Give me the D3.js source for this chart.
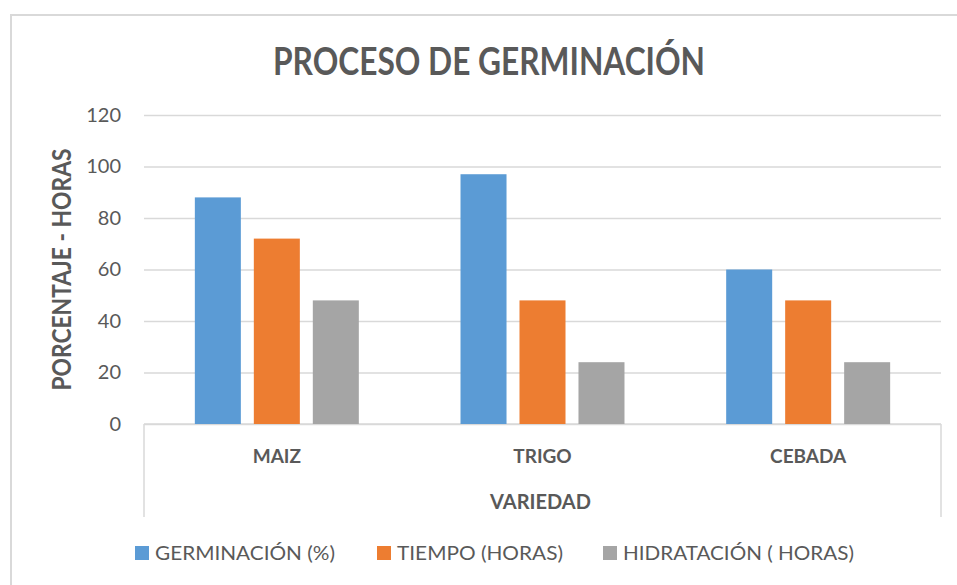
<!DOCTYPE html>
<html>
<head>
<meta charset="utf-8">
<script src="https://cdn.jsdelivr.net/npm/d3@7"></script>
<style>
  body { margin: 0; background: #fff; }
  svg text { font-family: Lato, "Open Sans", sans-serif; fill: #595959; }
</style>
</head>
<body>
<div id="chart"></div>
<script>
// data
const categories = ["MAIZ", "TRIGO", "CEBADA"];
const seriesNames = ["GERMINACIÓN (%)", "TIEMPO (HORAS)", "HIDRATACIÓN ( HORAS)"];
const germinacion = [88, 97, 60];
const tiempo = [72, 48, 48];
const hidratacion = [48, 24, 24];
const yTicks = [0, 20, 40, 60, 80, 100, 120];
const colors = ["#5b9bd5", "#ed7d31", "#a5a5a5"];

const series = [germinacion, tiempo, hidratacion];

const width = 957, height = 585;
const margin = {top: 115, right: 16, bottom: 161, left: 144};

let svg = d3.select("#chart").append("svg")
    .attr("width", width)
    .attr("height", height);

// outer chart border (runs off the right / bottom edges)
svg.append("rect")
    .attr("x", 11).attr("y", 15)
    .attr("width", 1000).attr("height", 1000)
    .attr("fill", "none")
    .attr("stroke", "#d9d9d9")
    .attr("stroke-width", 2);

let x0 = d3.scaleBand()
    .domain(categories)
    .range([margin.left, width - margin.right]);

let x1 = d3.scaleBand()
    .domain(d3.range(series.length))
    .range([0, x0.bandwidth()])
    .paddingInner(0.22)
    .paddingOuter(0.862);

let y = d3.scaleLinear()
    .domain([0, 120])
    .range([height - margin.bottom, margin.top]);

// gridlines + tick labels
let yAxis = d3.axisLeft(y)
    .tickValues(yTicks)
    .tickSize(-(width - margin.left - margin.right))
    .tickPadding(23);

let ga = svg.append("g")
    .attr("transform", "translate(" + margin.left + ",0)")
    .call(yAxis);
ga.select(".domain").remove();
ga.selectAll(".tick line").attr("stroke", "#d9d9d9").attr("stroke-width", 1.3);
ga.selectAll(".tick text")
    .attr("font-size", 20)
    .style("font-family", "Lato, sans-serif")
    .attr("fill", "#595959");

// category axis box
let y0 = y(0);
svg.append("line")
    .attr("x1", margin.left).attr("x2", width - margin.right)
    .attr("y1", y0).attr("y2", y0)
    .attr("stroke", "#d9d9d9").attr("stroke-width", 1.5);
[margin.left, width - margin.right].forEach(function(xx){
    svg.append("line")
        .attr("x1", xx).attr("x2", xx)
        .attr("y1", y0).attr("y2", 517)
        .attr("stroke", "#d9d9d9").attr("stroke-width", 1.5);
});

// bars
let groups = svg.selectAll("g.grp")
    .data(categories)
    .enter().append("g")
    .attr("class", "grp")
    .attr("transform", function(d){ return "translate(" + x0(d) + ",0)"; });

groups.selectAll("rect")
    .data(function(d, i){ return series.map(function(s, k){ return {k: k, v: s[i]}; }); })
    .enter().append("rect")
    .attr("x", function(d){ return x1(d.k); })
    .attr("width", x1.bandwidth())
    .attr("y", function(d){ return y(d.v); })
    .attr("height", function(d){ return y(0) - y(d.v); })
    .attr("fill", function(d){ return colors[d.k]; });

// category labels
svg.selectAll("text.cat")
    .data(categories)
    .enter().append("text")
    .attr("class", "cat")
    .attr("x", function(d){ return x0(d) + x0.bandwidth() / 2; })
    .attr("y", 462.5)
    .attr("text-anchor", "middle")
    .attr("font-size", 19)
    .attr("font-weight", "bold")
    .text(function(d){ return d; });

// axis titles
svg.append("text")
    .attr("x", (margin.left + width - margin.right) / 2 - 2)
    .attr("y", 509)
    .attr("text-anchor", "middle")
    .attr("font-size", 20)
    .attr("font-weight", "bold")
    .text("VARIEDAD");

svg.append("text")
    .attr("transform", "translate(71," + ((y(0) + y(120)) / 2) + ") rotate(-90)")
    .attr("text-anchor", "middle")
    .attr("font-size", 27)
    .attr("font-weight", "bold")
    .attr("textLength", 242)
    .attr("lengthAdjust", "spacingAndGlyphs")
    .text("PORCENTAJE - HORAS");

// title
svg.append("text")
    .attr("x", 489)
    .attr("y", 74.5)
    .attr("text-anchor", "middle")
    .attr("font-size", 39)
    .attr("font-weight", "bold")
    .attr("textLength", 432)
    .attr("lengthAdjust", "spacingAndGlyphs")
    .text("PROCESO DE GERMINACIÓN");

// legend
const legendX = [135, 377, 603];
const legendW = [180, 166, 231];
let lg = svg.selectAll("g.leg")
    .data(seriesNames)
    .enter().append("g")
    .attr("class", "leg")
    .attr("transform", function(d, i){ return "translate(" + legendX[i] + ",546)"; });
lg.append("rect")
    .attr("width", 14).attr("height", 14)
    .attr("fill", function(d, i){ return colors[i]; });
lg.append("text")
    .attr("x", 20)
    .attr("y", 14)
    .attr("font-size", 20)
    .attr("textLength", function(d, i){ return legendW[i]; })
    .attr("lengthAdjust", "spacingAndGlyphs")
    .text(function(d){ return d; });
</script>
</body>
</html>
